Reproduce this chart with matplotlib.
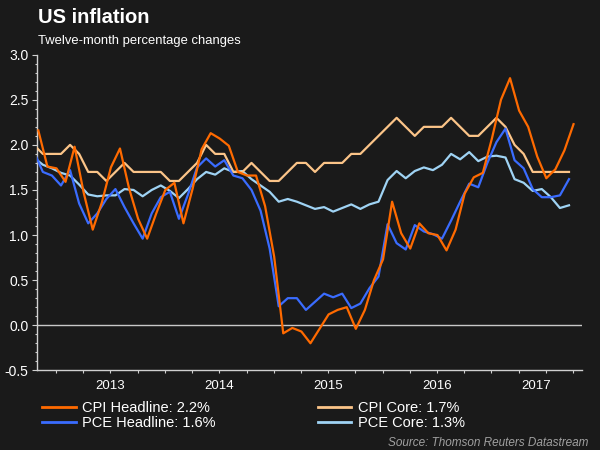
import matplotlib
matplotlib.use('Agg')
import matplotlib.pyplot as plt
import numpy as np

plt.rcParams['font.family'] = ['Liberation Sans', 'DejaVu Sans']

# monthly, Oct 2012 .. Sep 2017
cpi_headline = [2.16, 1.76, 1.74,
                1.59, 1.98, 1.47, 1.06, 1.36, 1.75, 1.96, 1.52, 1.18, 0.96, 1.24, 1.50,
                1.58, 1.13, 1.51, 1.95, 2.13, 2.07, 1.99, 1.70, 1.66, 1.66, 1.32, 0.76,
                -0.09, -0.03, -0.07, -0.20, -0.04, 0.12, 0.17, 0.20, -0.04, 0.17, 0.50, 0.73,
                1.37, 1.02, 0.85, 1.13, 1.02, 1.00, 0.83, 1.06, 1.46, 1.64, 1.69, 2.07,
                2.50, 2.74, 2.38, 2.20, 1.87, 1.63, 1.73, 1.94, 2.23]
cpi_core = [2.0, 1.9, 1.9,
            1.9, 2.0, 1.9, 1.7, 1.7, 1.6, 1.7, 1.8, 1.7, 1.7, 1.7, 1.7,
            1.6, 1.6, 1.7, 1.8, 2.0, 1.9, 1.9, 1.7, 1.7, 1.8, 1.7, 1.6,
            1.6, 1.7, 1.8, 1.8, 1.7, 1.8, 1.8, 1.8, 1.9, 1.9, 2.0, 2.1,
            2.2, 2.3, 2.2, 2.1, 2.2, 2.2, 2.2, 2.3, 2.2, 2.1, 2.1, 2.2,
            2.3, 2.2, 2.0, 1.9, 1.7, 1.7, 1.7, 1.7, 1.7]
pce_headline = [1.93, 1.70, 1.66,
                1.55, 1.72, 1.35, 1.13, 1.24, 1.40, 1.51, 1.31, 1.13, 0.96, 1.24, 1.42,
                1.48, 1.18, 1.45, 1.75, 1.85, 1.76, 1.83, 1.66, 1.63, 1.50, 1.27, 0.85,
                0.21, 0.30, 0.30, 0.17, 0.26, 0.35, 0.31, 0.35, 0.19, 0.24, 0.41, 0.54,
                1.12, 0.91, 0.84, 1.11, 1.04, 1.01, 0.96, 1.16, 1.37, 1.57, 1.53, 1.80,
                2.03, 2.18, 1.83, 1.74, 1.51, 1.42, 1.42, 1.44, 1.62]
pce_core = [1.86, 1.78, 1.74,
            1.69, 1.66, 1.56, 1.45, 1.43, 1.44, 1.44, 1.51, 1.50, 1.43, 1.50, 1.55,
            1.49, 1.41, 1.51, 1.62, 1.70, 1.67, 1.74, 1.70, 1.71, 1.62, 1.55, 1.48,
            1.37, 1.40, 1.37, 1.33, 1.29, 1.31, 1.26, 1.30, 1.34, 1.29, 1.34, 1.37,
            1.61, 1.71, 1.63, 1.71, 1.75, 1.72, 1.78, 1.90, 1.84, 1.92, 1.82, 1.87,
            1.88, 1.86, 1.62, 1.58, 1.49, 1.51, 1.42, 1.30, 1.33]

years = ['2013', '2014', '2015', '2016', '2017']
labels = ['CPI Headline: 2.2%', 'PCE Headline: 1.6%', 'CPI Core: 1.7%', 'PCE Core: 1.3%']

bg = '#1a1a1a'
c_cpi = '#ff6a00'
c_cpi_core = '#fbc488'
c_pce = '#3a6cff'
c_pce_core = '#9fd3f4'

fig = plt.figure(figsize=(6, 4.5), dpi=100, facecolor=bg)
ax = fig.add_axes([0.0622, 0.1771, 0.9073, 0.7013])
ax.set_facecolor(bg)

t = np.arange(len(pce_core))
ax.axhline(0, color='#c8c8c8', lw=1.0, zorder=1)
l4, = ax.plot(t, pce_core, color=c_pce_core, lw=1.6, zorder=2)
l3, = ax.plot(t, cpi_core, color=c_cpi_core, lw=1.6, zorder=3)
l2, = ax.plot(t, pce_headline, color=c_pce, lw=1.6, zorder=4)
l1, = ax.plot(t + 0.5, cpi_headline, color=c_cpi, lw=1.6, zorder=5)

ax.set_xlim(0.39, 60.4)
ax.set_ylim(-0.5, 3.0)

for s in ['top', 'right']:
    ax.spines[s].set_visible(False)
for s in ['left', 'bottom']:
    ax.spines[s].set_color('#d0d0d0')
    ax.spines[s].set_linewidth(1.0)

ax.set_yticks(np.arange(-0.5, 3.01, 0.5))
ax.set_yticklabels(['%.1f' % v for v in np.arange(-0.5, 3.01, 0.5)])
ax.set_yticks(np.arange(-0.5, 3.01, 0.1), minor=True)
ax.tick_params(axis='y', which='major', colors='#d0d0d0', labelcolor='white',
               labelsize=10, length=3.5, width=0.8, pad=3)
ax.tick_params(axis='y', which='minor', colors='#d0d0d0', length=1.8, width=0.8)

# quarter ticks, year labels centred in each year span
ax.xaxis.remove_overlapping_locs = False
ax.set_xticks(2.45 + 3 * np.arange(20))
ax.set_xticklabels([])
ax.set_xticks([8.45, 20.45, 32.45, 44.45, 55.4], minor=True)
ax.set_xticklabels(years, minor=True)
ax.tick_params(axis='x', which='major', colors='#d0d0d0', length=2.5, width=0.8)
ax.tick_params(axis='x', which='minor', length=0, labelcolor='white',
               labelsize=9.5, pad=7)

fig.text(0.0628, 1 - 23.3 / 450, 'US inflation', color='white', fontsize=14.5,
         fontweight='bold', va='baseline', ha='left')
fig.text(0.0628, 1 - 43.7 / 450, 'Twelve-month percentage changes', color='white',
         fontsize=9.4, va='baseline', ha='left')
fig.text(588 / 600, 1 - 446 / 450, 'Source: Thomson Reuters Datastream', color='#a0a0a0',
         fontsize=8.5, style='italic', va='baseline', ha='right')

leg = fig.legend([l1, l2, l3, l4], labels, ncol=2, frameon=False,
                 loc='center left', bbox_to_anchor=(42 / 600, 1 - 415.5 / 450),
                 borderpad=0, borderaxespad=0, fontsize=10.5,
                 handlelength=2.3, handletextpad=0.45, labelspacing=0.12,
                 columnspacing=7.0)
for txt in leg.get_texts():
    txt.set_color('white')
for h in leg.legend_handles:
    h.set_linewidth(2.0)

fig.savefig('out.png', dpi=100, facecolor=bg)
